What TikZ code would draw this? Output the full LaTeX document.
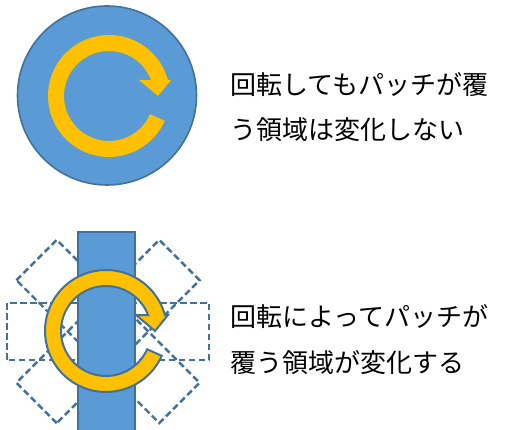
\documentclass[tikz,border=0pt]{standalone}
\usepackage{fontspec}
\newfontfamily\jpfont{Noto Sans CJK JP}
\definecolor{patchblue}{HTML}{5B9BD5}
\definecolor{edgeblue}{HTML}{41719C}
\definecolor{arrowyellow}{HTML}{FFC000}
\tikzset{
  rotarrow/.pic={
    \path[pic actions] (-24:\outr) arc[start angle=-24, end angle=-344.8, radius=\outr]
      -- (62,16) -- (49,0) -- (30,16) -- (20.8:45)
      arc[start angle=-339.2, end angle=-24, radius=45] -- cycle;
  },
  patch/.style={fill=patchblue, draw=edgeblue, line width=2pt},
  patchdash/.style={draw=edgeblue, line width=2.4pt, dash pattern=on 6.5pt off 3.5pt},
  jptext/.style={font=\jpfont\fontsize{26}{45}\selectfont, inner sep=0pt, anchor=base west}
}
\newcommand{\outr}{61}
\begin{document}
\begin{tikzpicture}[x=1pt,y=1pt]
\useasboundingbox (0,0) rectangle (508,430);
\clip (0,0) rectangle (508,430);
% top: circular patch
\node[circle, patch, line width=1.6pt, minimum size=179pt, inner sep=0pt] (disk) at (107,334.5) {};
\pic[fill=arrowyellow] (toparrow) at (109,334) {rotarrow};
\node[jptext] (ta) at (230.5,335) {回転してもパッチが覆};
\node[jptext] (tb) at (230.5,290) {う領域は変化しない};
% bottom: elongated patch
\begin{scope}[shift={(108,98.5)}]
  \foreach \ang in {0,45,-45}{
    \draw[patchdash, rotate=\ang] (-101,-28.5) rectangle (101,28.5);
  }
\end{scope}
\node[rectangle, patch, minimum width=57pt, minimum height=240pt, inner sep=0pt, anchor=north] (bar) at (106.5,199) {};
\pic[fill=arrowyellow, draw=edgeblue, line width=2pt] (botarrow) at (106,99) {rotarrow};
\node[jptext] (ba) at (230.5,103) {回転によってパッチが};
\node[jptext] (bb) at (230.5,57) {覆う領域が変化する};
\end{tikzpicture}
\end{document}
